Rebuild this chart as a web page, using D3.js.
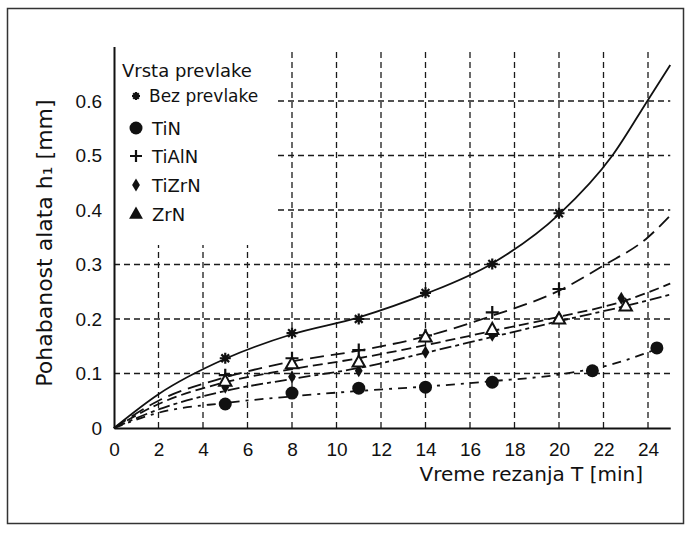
<!DOCTYPE html>
<meta charset="utf-8">
<style>
    body {
        margin: 0;
        background: #fff;
    }

    svg {
        font-family: "DejaVu Sans", sans-serif;
    }

    .grid line {
        stroke: #1a1a1a;
        stroke-width: 1.3;
        stroke-dasharray: 6, 4;
    }

    .axis path {
        fill: none;
        stroke: #111;
        stroke-width: 2;
    }

    .axis text {
        font-size: 19px;
        fill: #111;
    }

    .curve {
        fill: none;
        stroke: #111;
        stroke-width: 1.8;
    }
</style>
<body>
<script src="https://d3js.org/d3.v7.min.js"></script>
<script>
    const width = 689;
    const height = 533;

    const xTicks = [0, 2, 4, 6, 8, 10, 12, 14, 16, 18, 20, 22, 24];
    const yTicks = [0, 0.1, 0.2, 0.3, 0.4, 0.5, 0.6];

    const seriesNames = ['Bez prevlake', 'TiN', 'TiAlN', 'TiZrN', 'ZrN'];
    const seriesMarkers = ['asterisk', 'circle', 'plus', 'diamond', 'triangle'];
    const seriesDashes = [null, '9,6,3,6', '14,7', '12,4,4,4', '10,5'];

    // measured points [T, h1]
    const bezPoints = [[5, 0.128], [8, 0.174], [11, 0.200], [14, 0.248], [17, 0.301], [20, 0.394]];
    const tinPoints = [[5, 0.044], [8, 0.064], [11, 0.073], [14, 0.075], [17, 0.084], [21.5, 0.105], [24.4, 0.147]];
    const tialnPoints = [[5, 0.097], [8, 0.128], [11, 0.143], [14, 0.170], [17, 0.212], [20, 0.255]];
    const tizrnPoints = [[5, 0.075], [8, 0.094], [11, 0.105], [14, 0.139], [17, 0.170], [20, 0.203], [22.8, 0.238]];
    const zrnPoints = [[5, 0.086], [8, 0.118], [11, 0.121], [14, 0.167], [17, 0.181], [20, 0.200], [23, 0.224]];

    // fitted curves
    const bezCurve = [[0, 0], [2, 0.062], [5, 0.127], [8, 0.172], [11, 0.203], [14, 0.246], [17, 0.302], [20, 0.392],
        [22.4, 0.5], [24, 0.602], [25, 0.666]];
    const tinCurve = [[0, 0], [2, 0.028], [5, 0.046], [8, 0.058], [11, 0.068], [14, 0.076], [17, 0.086], [20, 0.098],
        [22.4, 0.117], [24.4, 0.145]];
    const tialnCurve = [[0, 0], [2, 0.05], [5, 0.093], [8, 0.122], [11, 0.142], [14, 0.168], [17, 0.206], [20, 0.252],
        [22, 0.298], [24, 0.35], [25, 0.39]];
    const tizrnCurve = [[0, 0], [2, 0.034], [5, 0.068], [8, 0.09], [11, 0.11], [14, 0.138], [17, 0.167], [20, 0.196],
        [23, 0.224], [25, 0.245]];
    const zrnCurve = [[0, 0], [2, 0.044], [5, 0.084], [8, 0.108], [11, 0.128], [14, 0.152], [17, 0.178], [20, 0.204],
        [23, 0.234], [25, 0.265]];

    const allPoints = [bezPoints, tinPoints, tialnPoints, tizrnPoints, zrnPoints];
    const allCurves = [bezCurve, tinCurve, tialnCurve, tizrnCurve, zrnCurve];

    const svg = d3.select('body')
        .append('svg')
        .attr('width', width)
        .attr('height', height);

    // outer frame
    svg.append('rect')
        .attr('x', 7.5)
        .attr('y', 8.5)
        .attr('width', 676)
        .attr('height', 515)
        .style('fill', 'none')
        .style('stroke', '#333')
        .style('stroke-width', 1.5);

    const xScale = d3.scaleLinear().domain([0, 25]).range([114, 670.25]);
    const yScale = d3.scaleLinear().domain([0, 0.7]).range([428, 46.5]);

    // legend sits in the upper left corner, grid stops around it
    const legendRight = 278;
    const legendBottom = 245;

    const grid = svg.append('g').attr('class', 'grid');

    grid.selectAll('.vgrid')
        .data(xTicks.filter(d => d > 0))
        .enter().append('line')
        .attr('x1', d => xScale(d))
        .attr('x2', d => xScale(d))
        .attr('y1', yScale(0))
        .attr('y2', d => xScale(d) < legendRight ? legendBottom : yScale.range()[1] + 3);

    grid.selectAll('.hgrid')
        .data(yTicks.filter(d => d > 0))
        .enter().append('line')
        .attr('y1', d => yScale(d))
        .attr('y2', d => yScale(d))
        .attr('x1', d => yScale(d) < legendBottom ? legendRight : xScale(0))
        .attr('x2', xScale.range()[1]);

    // axes
    const xAxis = d3.axisBottom(xScale)
        .tickValues(xTicks)
        .tickSize(0)
        .tickPadding(15)
        .tickFormat(d3.format('d'));

    const yAxis = d3.axisLeft(yScale)
        .tickValues(yTicks)
        .tickSize(0)
        .tickPadding(12)
        .tickFormat(d => d === 0 ? '0' : d3.format('.1f')(d));

    svg.append('g')
        .attr('class', 'x axis')
        .attr('transform', 'translate(0,' + yScale(0) + ')')
        .call(xAxis)
        .call(g => g.selectAll('text').attr('font-family', null));

    svg.append('g')
        .attr('class', 'y axis')
        .attr('transform', 'translate(' + xScale(0) + ',0)')
        .call(yAxis)
        .call(g => g.selectAll('text').attr('font-family', null));

    svg.append('text')
        .attr('x', 643)
        .attr('y', 481)
        .style('text-anchor', 'end')
        .style('font-size', '20px')
        .style('fill', '#111')
        .text('Vreme rezanja T [min]');

    svg.append('text')
        .attr('transform', 'translate(52,243) rotate(-90)')
        .style('text-anchor', 'middle')
        .style('font-size', '22px')
        .style('fill', '#111')
        .text('Pohabanost alata h₁ [mm]');

    // curves
    const line = d3.line()
        .x(d => xScale(d[0]))
        .y(d => yScale(d[1]))
        .curve(d3.curveMonotoneX);

    svg.selectAll('.curve')
        .data(allCurves)
        .enter().append('path')
        .attr('class', 'curve')
        .attr('d', line)
        .style('stroke-dasharray', (d, i) => seriesDashes[i]);

    // marker shapes
    function markerPath(type, r) {
        const p = d3.path();
        if (type === 'circle') {
            p.arc(0, 0, r, 0, 2 * Math.PI);
        } else if (type === 'asterisk') {
            for (let k = 0; k < 4; k++) {
                const a = k * Math.PI / 4;
                p.moveTo(-r * Math.cos(a), -r * Math.sin(a));
                p.lineTo(r * Math.cos(a), r * Math.sin(a));
            }
        } else if (type === 'plus') {
            p.moveTo(-r, 0); p.lineTo(r, 0);
            p.moveTo(0, -r); p.lineTo(0, r);
        } else if (type === 'diamond') {
            p.moveTo(0, -r); p.lineTo(r * 0.6, 0); p.lineTo(0, r); p.lineTo(-r * 0.6, 0); p.closePath();
        } else if (type === 'triangle') {
            p.moveTo(0, -r); p.lineTo(r * 0.95, r * 0.7); p.lineTo(-r * 0.95, r * 0.7); p.closePath();
        }
        return p.toString();
    }

    const markerSize = {asterisk: 5.5, circle: 6.5, plus: 6.5, diamond: 6.5, triangle: 6.5};

    function styleMarker(sel, type, inLegend) {
        if (type === 'circle' || type === 'diamond') {
            sel.style('fill', '#111').style('stroke', 'none');
        } else if (type === 'triangle') {
            sel.style('fill', inLegend ? '#111' : '#fff').style('stroke', '#111').style('stroke-width', 2);
        } else {
            sel.style('fill', 'none').style('stroke', '#111').style('stroke-width', 2.2);
        }
    }

    allPoints.forEach((pts, i) => {
        const type = seriesMarkers[i];
        const m = svg.append('g')
            .attr('class', 'markers')
            .selectAll('path')
            .data(pts)
            .enter().append('path')
            .attr('transform', d => 'translate(' + xScale(d[0]) + ',' + yScale(d[1]) + ')')
            .attr('d', markerPath(type, markerSize[type]));
        styleMarker(m, type, false);
    });

    // legend
    const legend = svg.append('g').attr('class', 'legend');

    legend.append('text')
        .attr('x', 122)
        .attr('y', 77)
        .style('font-size', '18px')
        .style('fill', '#111')
        .text('Vrsta prevlake');

    const legendRows = [102, 135, 163, 192, 221];

    const item = legend.selectAll('.item')
        .data(seriesNames)
        .enter().append('g')
        .attr('class', 'item')
        .attr('transform', (d, i) => 'translate(0,' + legendRows[i] + ')');

    item.append('text')
        .attr('x', (d, i) => i === 0 ? 149 : 152)
        .style('font-size', (d, i) => i === 0 ? '17px' : '18px')
        .style('fill', '#111')
        .text(d => d);

    item.each(function (d, i) {
        const type = seriesMarkers[i];
        const r = {asterisk: 4, circle: 6.5, plus: 6, diamond: 6.5, triangle: 5.5}[type];
        const m = d3.select(this).append('path')
            .attr('transform', 'translate(136,' + (i === 0 ? -6 : -7) + ')')
            .attr('d', markerPath(type, r));
        styleMarker(m, type, true);
    });
</script>
</body>
</html>
